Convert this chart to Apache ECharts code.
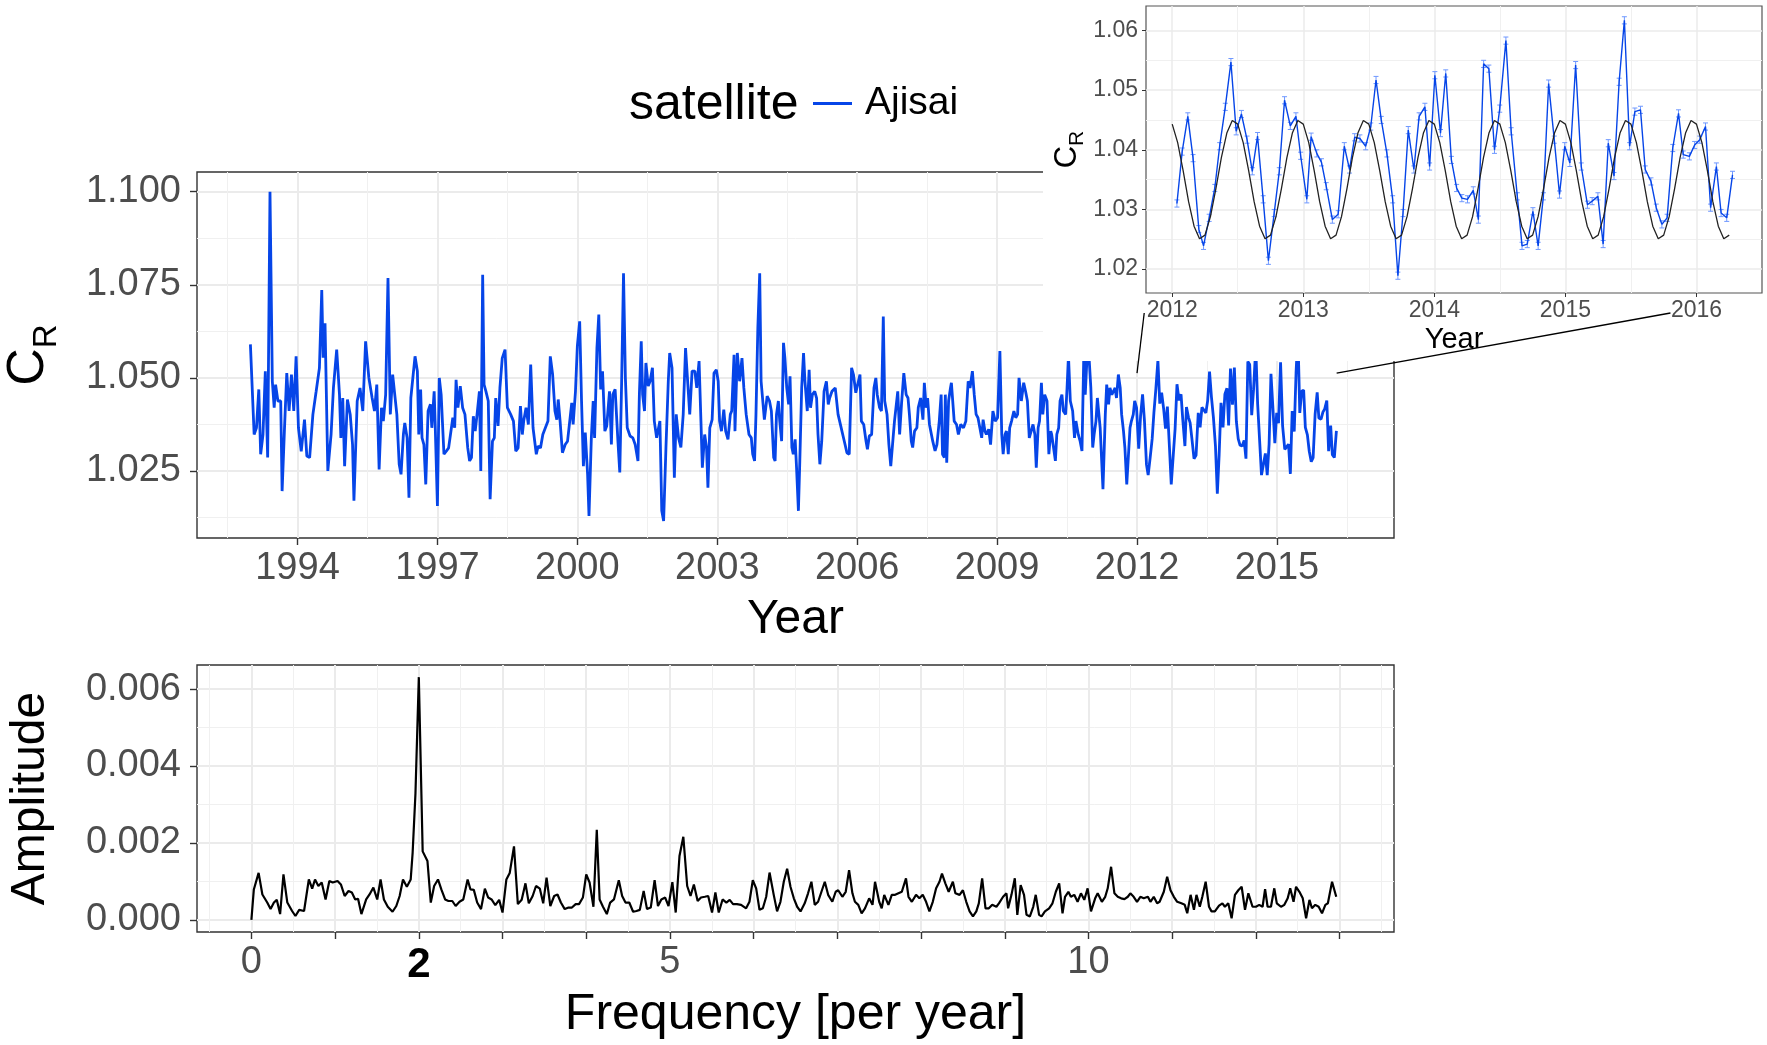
<!DOCTYPE html>
<html>
<head>
<meta charset="utf-8">
<script src="https://cdn.jsdelivr.net/npm/echarts@6/dist/echarts.min.js"></script>
<style>
  html, body { margin: 0; padding: 0; background: #fff; }
  #chart { width: 1767px; height: 1045px; }
</style>
</head>
<body>
<div id="chart"></div>
<script>
// C_R series 1993-2011, [decimal year, C_R]
const mainObs = [
  [1992.99,1.0590],[1993.07,1.0348],[1993.12,1.0366],[1993.17,1.0469],[1993.21,1.0295],[1993.26,1.0348],[1993.31,1.0518],[1993.36,1.0286],[1993.41,1.1000],[1993.46,1.0491],
  [1993.50,1.0420],[1993.53,1.0482],[1993.58,1.0438],[1993.64,1.0438],[1993.67,1.0196],[1993.72,1.0361],[1993.77,1.0513],[1993.82,1.0411],[1993.87,1.0509],[1993.92,1.0411],
  [1993.97,1.0558],[1994.02,1.0366],[1994.08,1.0303],[1994.15,1.0388],[1994.20,1.0290],[1994.26,1.0286],[1994.33,1.0402],[1994.40,1.0464],[1994.47,1.0527],[1994.52,1.0736],
  [1994.55,1.0554],[1994.59,1.0647],[1994.65,1.0250],[1994.72,1.0348],[1994.77,1.0473],[1994.84,1.0576],[1994.90,1.0455],[1994.93,1.0339],[1994.97,1.0446],[1995.01,1.0263],
  [1995.07,1.0442],[1995.13,1.0402],[1995.18,1.0321],[1995.21,1.0170],[1995.28,1.0438],[1995.34,1.0473],[1995.40,1.0411],[1995.46,1.0598],[1995.53,1.0500],[1995.60,1.0446],
  [1995.65,1.0411],[1995.70,1.0482],[1995.75,1.0254],[1995.80,1.0420],[1995.84,1.0384],[1995.89,1.0455],[1995.94,1.0768],[1995.99,1.0402],[1996.04,1.0509],
  [1996.13,1.0402],[1996.18,1.0268],[1996.22,1.0241],[1996.27,1.0348],[1996.30,1.0379],[1996.35,1.0339],[1996.39,1.0178],[1996.43,1.0446],[1996.48,1.0509],[1996.52,1.0558],
  [1996.57,1.0518],[1996.60,1.0348],[1996.64,1.0469],[1996.67,1.0339],[1996.71,1.0321],[1996.75,1.0214],[1996.80,1.0411],[1996.85,1.0429],[1996.88,1.0366],[1996.93,1.0464],
  [1996.95,1.0384],[1997.00,1.0156],[1997.04,1.0500],[1997.08,1.0455],[1997.14,1.0295],[1997.19,1.0303],[1997.24,1.0312],[1997.28,1.0312],[1997.33,1.0393],[1997.37,1.0366],
  [1997.40,1.0495],[1997.44,1.0420],[1997.49,1.0478],[1997.54,1.0420],[1997.59,1.0402],[1997.65,1.0312],[1997.69,1.0277],[1997.73,1.0286],[1997.77,1.0397],[1997.81,1.0357],
  [1997.85,1.0402],[1997.90,1.0464],[1997.93,1.0250],[1997.97,1.0777],[1998.00,1.0482],[1998.04,1.0464],[1998.09,1.0438],[1998.13,1.0174],[1998.18,1.0330],[1998.22,1.0339],
  [1998.25,1.0446],[1998.30,1.0371],[1998.34,1.0473],[1998.39,1.0553],[1998.45,1.0576],[1998.50,1.0420],[1998.57,1.0402],[1998.63,1.0384],[1998.68,1.0303],[1998.73,1.0312],
  [1998.78,1.0424],[1998.82,1.0348],[1998.85,1.0384],[1998.90,1.0420],[1998.95,1.0375],[1999.00,1.0536],[1999.05,1.0366],[1999.12,1.0295],[1999.16,1.0317],[1999.21,1.0312],
  [1999.26,1.0348],[1999.37,1.0384],[1999.42,1.0558],[1999.47,1.0509],[1999.52,1.0411],[1999.56,1.0388],[1999.59,1.0442],[1999.63,1.0384],[1999.68,1.0299],[1999.74,1.0321],
  [1999.79,1.0330],[1999.82,1.0335],[1999.88,1.0433],[1999.91,1.0375],[1999.96,1.0464],[2000.00,1.0585],[2000.05,1.0652],[2000.09,1.0438],[2000.13,1.0263],[2000.17,1.0353],
  [2000.22,1.0241],[2000.25,1.0129],[2000.30,1.0339],[2000.34,1.0438],[2000.37,1.0339],[2000.42,1.0580],[2000.46,1.0670],[2000.50,1.0469],[2000.54,1.0518],[2000.59,1.0357],
  [2000.63,1.0371],[2000.69,1.0464],[2000.73,1.0321],[2000.76,1.0455],[2000.81,1.0469],[2000.87,1.0330],[2000.91,1.0246],[2000.95,1.0491],[2000.99,1.0781],[2001.03,1.0500],
  [2001.07,1.0366],[2001.13,1.0344],[2001.19,1.0339],[2001.24,1.0321],[2001.30,1.0277],[2001.33,1.0455],[2001.37,1.0598],[2001.40,1.0455],[2001.44,1.0411],[2001.47,1.0540],
  [2001.52,1.0478],[2001.56,1.0491],[2001.61,1.0527],[2001.65,1.0384],[2001.70,1.0339],[2001.73,1.0339],[2001.77,1.0384],[2001.81,1.0143],[2001.85,1.0116],[2001.90,1.0313],
  [2001.95,1.0491],[2001.98,1.0567],[2002.03,1.0527],[2002.08,1.0232],[2002.12,1.0402],[2002.17,1.0339],[2002.22,1.0313],[2002.27,1.0402],[2002.32,1.0580],[2002.36,1.0580],
  [2002.41,1.0402],[2002.46,1.0518],[2002.52,1.0518],[2002.56,1.0473],[2002.61,1.0545],[2002.65,1.0384],[2002.68,1.0259],[2002.73,1.0348],[2002.77,1.0313],[2002.80,1.0205],
  [2002.84,1.0366],[2002.89,1.0388],[2002.93,1.0513],[2002.98,1.0522],[2003.02,1.0491],[2003.05,1.0384],[2003.09,1.0357],[2003.14,1.0415],[2003.18,1.0357],[2003.23,1.0335],
  [2003.28,1.0402],[2003.31,1.0411],[2003.36,1.0562],[2003.38,1.0357],[2003.43,1.0567],[2003.48,1.0491],[2003.53,1.0553],[2003.57,1.0473],[2003.62,1.0402],[2003.68,1.0348],
  [2003.73,1.0339],[2003.76,1.0295],[2003.80,1.0277],[2003.83,1.0402],[2003.87,1.0634],[2003.91,1.0781],[2003.94,1.0491],[2003.97,1.0491],[2004.01,1.0388],[2004.07,1.0451],
  [2004.12,1.0438],[2004.16,1.0411],[2004.21,1.0286],[2004.24,1.0277],[2004.27,1.0402],[2004.31,1.0438],[2004.34,1.0384],[2004.38,1.0330],[2004.42,1.0594],[2004.45,1.0554],
  [2004.49,1.0473],[2004.53,1.0429],[2004.56,1.0504],[2004.60,1.0313],[2004.63,1.0295],[2004.67,1.0335],[2004.70,1.0259],[2004.74,1.0143],[2004.77,1.0277],[2004.81,1.0473],
  [2004.85,1.0567],[2004.88,1.0491],[2004.93,1.0411],[2004.97,1.0522],[2005.00,1.0420],[2005.04,1.0455],[2005.09,1.0464],[2005.13,1.0446],[2005.16,1.0348],[2005.20,1.0268],
  [2005.24,1.0330],[2005.29,1.0464],[2005.34,1.0491],[2005.38,1.0429],[2005.41,1.0446],[2005.46,1.0464],[2005.53,1.0473],[2005.59,1.0402],[2005.64,1.0375],[2005.69,1.0348],
  [2005.74,1.0321],[2005.78,1.0299],[2005.83,1.0295],[2005.88,1.0527],[2005.92,1.0509],[2005.97,1.0460],[2006.01,1.0455],[2006.06,1.0509],[2006.09,1.0384],[2006.14,1.0375],
  [2006.19,1.0330],[2006.22,1.0308],[2006.26,1.0344],[2006.31,1.0348],[2006.36,1.0473],[2006.40,1.0500],[2006.43,1.0455],[2006.48,1.0420],[2006.52,1.0411],[2006.56,1.0665],
  [2006.59,1.0438],[2006.64,1.0402],[2006.68,1.0321],[2006.72,1.0263],[2006.77,1.0339],[2006.80,1.0384],[2006.84,1.0388],[2006.87,1.0464],[2006.91,1.0348],[2006.95,1.0429],
  [2007.00,1.0513],[2007.05,1.0455],[2007.09,1.0446],[2007.12,1.0402],[2007.16,1.0330],[2007.19,1.0313],[2007.23,1.0357],[2007.28,1.0366],[2007.31,1.0420],[2007.36,1.0446],
  [2007.41,1.0388],[2007.44,1.0487],[2007.48,1.0420],[2007.51,1.0446],[2007.55,1.0375],[2007.58,1.0375],[2007.62,1.0330],[2007.67,1.0304],[2007.71,1.0321],[2007.76,1.0384],
  [2007.80,1.0455],[2007.83,1.0295],[2007.87,1.0286],[2007.89,1.0455],[2007.92,1.0272],[2007.96,1.0438],[2008.00,1.0473],[2008.02,1.0487],[2008.08,1.0384],[2008.13,1.0375],
  [2008.17,1.0348],[2008.22,1.0375],[2008.28,1.0366],[2008.33,1.0384],[2008.38,1.0491],[2008.42,1.0473],[2008.47,1.0518],[2008.51,1.0455],[2008.55,1.0402],[2008.59,1.0393],
  [2008.63,1.0366],[2008.67,1.0339],[2008.70,1.0388],[2008.74,1.0357],[2008.77,1.0348],[2008.82,1.0362],[2008.86,1.0321],[2008.91,1.0411],[2008.96,1.0384],[2009.01,1.0393],
  [2009.06,1.0572],[2009.10,1.0348],[2009.13,1.0295],[2009.17,1.0348],[2009.20,1.0357],[2009.24,1.0295],[2009.27,1.0366],[2009.31,1.0384],[2009.36,1.0411],[2009.40,1.0393],
  [2009.44,1.0402],[2009.47,1.0500],[2009.52,1.0438],[2009.57,1.0487],[2009.61,1.0464],[2009.65,1.0438],[2009.69,1.0339],[2009.73,1.0339],[2009.77,1.0375],[2009.81,1.0348],
  [2009.84,1.0259],[2009.88,1.0366],[2009.91,1.0384],[2009.95,1.0487],[2009.98,1.0402],[2010.02,1.0455],[2010.07,1.0438],[2010.11,1.0295],[2010.15,1.0357],[2010.17,1.0348],
  [2010.21,1.0313],[2010.25,1.0277],[2010.28,1.0348],[2010.32,1.0366],[2010.35,1.0438],[2010.39,1.0455],[2010.42,1.0411],[2010.47,1.0402],[2010.50,1.0473],[2010.53,1.0560],
  [2010.57,1.0438],[2010.62,1.0411],[2010.66,1.0339],[2010.69,1.0384],[2010.74,1.0348],[2010.78,1.0330],[2010.82,1.0304],[2010.86,1.0570],[2010.89,1.0455],[2010.93,1.0560],
  [2010.96,1.0580],[2011.01,1.0473],[2011.05,1.0313],[2011.08,1.0348],[2011.12,1.0384],[2011.15,1.0446],[2011.21,1.0366],[2011.27,1.0201],[2011.32,1.0402],[2011.35,1.0482],
  [2011.39,1.0429],[2011.42,1.0473],[2011.46,1.0455],[2011.49,1.0455],[2011.53,1.0473],[2011.56,1.0446],[2011.60,1.0509],[2011.64,1.0473],[2011.67,1.0402],[2011.71,1.0357],
  [2011.74,1.0313],[2011.78,1.0214],[2011.81,1.0214],[2011.85,1.0366],[2011.88,1.0384],[2011.92,1.0402],[2011.95,1.0438],[2011.99,1.0420]
];

// 2012-2016 detail (inset), also the tail of the main series
const insetObs = [
  [2012.036,1.0310],[2012.076,1.0397],[2012.119,1.0456],[2012.159,1.0386],[2012.203,1.0267],[2012.239,1.0239],[2012.282,1.0286],[2012.325,1.0336],[2012.362,1.0406],[2012.405,1.0472],
  [2012.448,1.0547],[2012.488,1.0431],[2012.528,1.0460],[2012.571,1.0417],[2012.611,1.0364],[2012.651,1.0423],[2012.694,1.0317],[2012.734,1.0214],[2012.778,1.0294],[2012.817,1.0364],
  [2012.857,1.0483],[2012.901,1.0440],[2012.944,1.0456],[2012.980,1.0390],[2013.027,1.0317],[2013.060,1.0422],[2013.103,1.0394],[2013.139,1.0379],[2013.175,1.0339],[2013.222,1.0283],
  [2013.266,1.0292],[2013.313,1.0406],[2013.353,1.0367],[2013.392,1.0421],[2013.432,1.0419],[2013.476,1.0406],[2013.515,1.0439],[2013.555,1.0517],[2013.595,1.0450],[2013.638,1.0394],
  [2013.682,1.0317],[2013.722,1.0189],[2013.761,1.0294],[2013.801,1.0433],[2013.844,1.0367],[2013.884,1.0456],[2013.928,1.0472],[2013.964,1.0372],[2014.004,1.0525],[2014.047,1.0428],
  [2014.087,1.0528],[2014.130,1.0383],[2014.170,1.0336],[2014.210,1.0319],[2014.253,1.0317],[2014.297,1.0332],[2014.336,1.0283],[2014.376,1.0544],[2014.416,1.0536],[2014.459,1.0400],
  [2014.499,1.0469],[2014.546,1.0583],[2014.586,1.0431],[2014.633,1.0322],[2014.669,1.0239],[2014.709,1.0242],[2014.752,1.0297],[2014.792,1.0239],[2014.832,1.0322],[2014.872,1.0511],
  [2014.915,1.0417],[2014.955,1.0325],[2014.995,1.0406],[2015.034,1.0378],[2015.078,1.0542],[2015.121,1.0372],[2015.168,1.0308],[2015.204,1.0314],[2015.248,1.0322],[2015.288,1.0242],
  [2015.327,1.0411],[2015.371,1.0356],[2015.410,1.0514],[2015.450,1.0617],[2015.490,1.0406],[2015.530,1.0464],[2015.573,1.0467],[2015.609,1.0367],[2015.653,1.0347],[2015.693,1.0303],
  [2015.736,1.0275],[2015.776,1.0286],[2015.819,1.0403],[2015.863,1.0461],[2015.899,1.0392],[2015.946,1.0389],[2015.986,1.0408],[2016.025,1.0417],[2016.069,1.0439],[2016.108,1.0303],
  [2016.152,1.0372],[2016.188,1.0294],[2016.231,1.0286],[2016.275,1.0358]
];
const insetErr = 0.0006;

// fitted semi-annual curve, one value every half month from 2012.0
const fitCR = [
  1.0443,1.0412,1.0365,1.0313,1.0272,1.0251,1.0257,1.0288,1.0335,1.0387,1.0428,1.0449,
  1.0443,1.0412,1.0365,1.0313,1.0272,1.0251,1.0257,1.0288,1.0335,1.0387,1.0428,1.0449,
  1.0443,1.0412,1.0365,1.0313,1.0272,1.0251,1.0257,1.0288,1.0335,1.0387,1.0428,1.0449,
  1.0443,1.0412,1.0365,1.0313,1.0272,1.0251,1.0257,1.0288,1.0335,1.0387,1.0428,1.0449,
  1.0443,1.0412,1.0365,1.0313,1.0272,1.0251,1.0257,1.0288,1.0335,1.0387,1.0428,1.0449,
  1.0443,1.0412,1.0365,1.0313,1.0272,1.0251,1.0257,1.0288,1.0335,1.0387,1.0428,1.0449,
  1.0443,1.0412,1.0365,1.0313,1.0272,1.0251,1.0257,1.0288,1.0335,1.0387,1.0428,1.0449,
  1.0443,1.0412,1.0365,1.0313,1.0272,1.0251,1.0257,1.0288,1.0335,1.0387,1.0428,1.0449,
  1.0443,1.0412,1.0365,1.0313,1.0272,1.0251,1.0257
];
const fitStart = 2012;
const fitStep = 1 / 24;

// amplitude spectrum, [frequency per year, amplitude]
const fftSpectrum = [
  [0,0],[0.029,0.00079],[0.086,0.00122],[0.131,0.00066],[0.189,0.00045],[0.229,0.00028],[0.269,0.00045],[0.303,0.00052],[0.343,0.00015],[0.383,0.00118],
  [0.429,0.00045],[0.486,0.00023],[0.526,0.00010],[0.571,0.00026],[0.629,0.00023],[0.686,0.00105],[0.726,0.00081],[0.760,0.00105],[0.800,0.00088],[0.840,0.00097],
  [0.886,0.00053],[0.931,0.00101],[0.971,0.00097],[1.029,0.00101],[1.069,0.00092],[1.114,0.00062],[1.160,0.00075],[1.200,0.00071],[1.240,0.00053],[1.274,0.00055],
  [1.314,0.00015],[1.371,0.00053],[1.411,0.00066],[1.457,0.00084],[1.503,0.00053],[1.543,0.00105],[1.583,0.00053],[1.629,0.00034],[1.686,0.00021],[1.731,0.00036],
  [1.771,0.00062],[1.811,0.00105],[1.857,0.00086],[1.903,0.00105],[1.926,0.00174],[1.960,0.00329],[2.000,0.00631],[2.046,0.00178],[2.103,0.00153],[2.143,0.00045],
  [2.183,0.00088],[2.229,0.00105],[2.269,0.00079],[2.314,0.00053],[2.354,0.00049],[2.400,0.00049],[2.440,0.00036],[2.486,0.00047],[2.531,0.00053],[2.583,0.00105],
  [2.617,0.00079],[2.657,0.00078],[2.697,0.00045],[2.743,0.00028],[2.789,0.00081],[2.829,0.00058],[2.869,0.00053],[2.914,0.00038],[2.960,0.00052],[3.000,0.00019],
  [3.046,0.00105],[3.086,0.00122],[3.137,0.00191],[3.183,0.00041],[3.229,0.00052],[3.274,0.00095],[3.314,0.00043],[3.360,0.00062],[3.400,0.00088],[3.446,0.00081],
  [3.486,0.00043],[3.526,0.00110],[3.571,0.00036],[3.617,0.00062],[3.657,0.00066],[3.697,0.00045],[3.743,0.00028],[3.789,0.00032],[3.829,0.00032],[3.874,0.00041],
  [3.914,0.00041],[3.960,0.00058],[4.000,0.00118],[4.040,0.00097],[4.086,0.00034],[4.126,0.00234],[4.160,0.00053],[4.200,0.00034],[4.246,0.00015],[4.286,0.00045],
  [4.331,0.00053],[4.389,0.00103],[4.429,0.00062],[4.469,0.00045],[4.514,0.00045],[4.560,0.00021],[4.600,0.00023],[4.640,0.00026],[4.686,0.00075],[4.726,0.00028],
  [4.771,0.00032],[4.817,0.00103],[4.857,0.00036],[4.897,0.00053],[4.943,0.00058],[4.983,0.00036],[5.029,0.00098],[5.069,0.00019],[5.114,0.00166],[5.160,0.00216],
  [5.206,0.00088],[5.246,0.00062],[5.286,0.00092],[5.331,0.00049],[5.371,0.00058],[5.417,0.00060],[5.457,0.00062],[5.503,0.00019],[5.543,0.00071],[5.583,0.00019],
  [5.629,0.00053],[5.674,0.00045],[5.714,0.00052],[5.754,0.00041],[5.800,0.00041],[5.85,0.00039],[5.91,0.00030],[5.95,0.00047],[5.99,0.00103],[6.03,0.00082],
  [6.07,0.00026],[6.11,0.00030],[6.15,0.00060],[6.19,0.00123],[6.24,0.00065],[6.28,0.00022],[6.32,0.00047],[6.36,0.00099],[6.40,0.00133],[6.44,0.00086],
  [6.48,0.00056],[6.52,0.00034],[6.56,0.00022],[6.61,0.00043],[6.65,0.00069],[6.69,0.00099],[6.73,0.00039],[6.77,0.00047],[6.81,0.00073],[6.85,0.00099],
  [6.89,0.00065],[6.94,0.00047],[6.98,0.00073],[7.01,0.00077],[7.06,0.00060],[7.10,0.00073],[7.14,0.00129],[7.18,0.00069],[7.21,0.00047],[7.25,0.00039],
  [7.29,0.00017],[7.33,0.00030],[7.38,0.00056],[7.42,0.00039],[7.45,0.00099],[7.50,0.00047],[7.53,0.00030],[7.56,0.00065],[7.61,0.00039],[7.65,0.00065],
  [7.69,0.00065],[7.73,0.00069],[7.77,0.00073],[7.82,0.00108],[7.85,0.00060],[7.89,0.00047],[7.94,0.00065],[7.98,0.00056],[8.02,0.00065],[8.06,0.00047],
  [8.10,0.00022],[8.14,0.00047],[8.18,0.00082],[8.22,0.00099],[8.25,0.00120],[8.29,0.00095],[8.33,0.00073],[8.38,0.00099],[8.41,0.00069],[8.46,0.00065],
  [8.50,0.00077],[8.54,0.00047],[8.58,0.00022],[8.62,0.00009],[8.66,0.00022],[8.69,0.00043],[8.73,0.00108],[8.77,0.00030],[8.81,0.00030],[8.85,0.00039],
  [8.90,0.00034],[8.93,0.00043],[8.98,0.00060],[9.02,0.00069],[9.04,0.00030],[9.08,0.00065],[9.12,0.00108],[9.15,0.00013],[9.19,0.00090],[9.23,0.00065],
  [9.26,0.00013],[9.30,0.00009],[9.34,0.00034],[9.37,0.00065],[9.41,0.00013],[9.44,0.00009],[9.48,0.00022],[9.53,0.00030],[9.57,0.00043],[9.61,0.00073],
  [9.65,0.00095],[9.69,0.00017],[9.72,0.00060],[9.76,0.00073],[9.79,0.00060],[9.83,0.00065],[9.87,0.00047],[9.91,0.00069],[9.95,0.00052],[9.99,0.00082],
  [10.03,0.00022],[10.08,0.00056],[10.11,0.00069],[10.16,0.00047],[10.20,0.00060],[10.23,0.00082],[10.27,0.00138],[10.31,0.00069],[10.35,0.00060],[10.39,0.00056],
  [10.43,0.00054],[10.47,0.00060],[10.50,0.00069],[10.54,0.00060],[10.58,0.00047],[10.62,0.00060],[10.66,0.00056],[10.71,0.00060],[10.74,0.00047],[10.78,0.00060],
  [10.82,0.00043],[10.85,0.00047],[10.90,0.00073],[10.94,0.00112],[10.98,0.00077],[11.02,0.00060],[11.06,0.00047],[11.11,0.00043],[11.15,0.00039],[11.18,0.00017],
  [11.22,0.00065],[11.26,0.00026],[11.29,0.00065],[11.33,0.00034],[11.36,0.00060],[11.40,0.00099],[11.44,0.00034],[11.47,0.00022],[11.51,0.00022],[11.56,0.00037],
  [11.60,0.00043],[11.63,0.00034],[11.67,0.00043],[11.71,0.00004],[11.75,0.00065],[11.79,0.00077],[11.83,0.00086],[11.87,0.00026],[11.91,0.00069],[11.96,0.00034],
  [12.00,0.00034],[12.04,0.00039],[12.08,0.00034],[12.11,0.00080],[12.14,0.00034],[12.18,0.00034],[12.22,0.00082],[12.25,0.00043],[12.30,0.00034],[12.34,0.00039],
  [12.38,0.00056],[12.41,0.00082],[12.45,0.00047],[12.48,0.00086],[12.52,0.00073],[12.56,0.00056],[12.60,0.00004],[12.64,0.00052],[12.67,0.00030],[12.71,0.00039],
  [12.75,0.00034],[12.79,0.00017],[12.83,0.00039],[12.86,0.00043],[12.91,0.00099],[12.96,0.00060]
];

// tick / grid positions
const mainXTicks = [1994, 1997, 2000, 2003, 2006, 2009, 2012, 2015];
const mainXMinor = [1992.5, 1995.5, 1998.5, 2001.5, 2004.5, 2007.5, 2010.5, 2013.5, 2016.5];
const mainYTicks = [1.025, 1.05, 1.075, 1.1];
const mainYMinor = [1.0125, 1.0375, 1.0625, 1.0875];
const fftXTicks = [0, 1, 2, 3, 4, 5, 6, 7, 8, 9, 10, 11, 12, 13];
const fftXLabels = [0, 2, 5, 10];
const fftXMinor = [-0.5, 0.5, 1.5, 2.5, 3.5, 4.5, 5.5, 6.5, 7.5, 8.5, 9.5, 10.5, 11.5, 12.5, 13.5];
const fftYTicks = [0, 0.002, 0.004, 0.006];
const fftYMinor = [0.001, 0.003, 0.005];
const insetXTicks = [2012, 2013, 2014, 2015, 2016];
const insetXMinor = [2012.5, 2013.5, 2014.5, 2015.5];
const insetYTicks = [1.02, 1.03, 1.04, 1.05, 1.06];
const insetYMinor = [1.025, 1.035, 1.045, 1.055];

const FONT = '"Liberation Sans", Arial, Helvetica, sans-serif';
const BLUE = '#0645e8';
const LABEL_GREY = '#4d4d4d';
const BORDER = '#333333';

const chart = echarts.init(document.getElementById('chart'));

function majorAxis(o) {
  return {
    type: 'value', gridIndex: o.grid, position: o.pos, min: o.min, max: o.max, z: o.z || 0,
    axisLine: { show: false, onZero: false },
    axisTick: { show: true, length: o.tickLen, customValues: o.ticks,
      lineStyle: { color: BORDER, width: o.tickW } },
    axisLabel: { customValues: o.labels || o.ticks, fontSize: o.fs, color: LABEL_GREY,
      fontFamily: FONT, margin: o.margin, formatter: o.fmt, rich: o.rich },
    splitLine: { show: true, lineStyle: { color: '#ebebeb', width: o.gridW } },
    name: o.name, nameLocation: 'middle', nameGap: o.nameGap, nameRotate: o.nameRotate,
    nameMoveOverlap: false,
    nameTextStyle: o.nameStyle
  };
}
function minorAxis(grid, min, max, vals, w, z) {
  return {
    type: 'value', gridIndex: grid, min: min, max: max, z: z || 0,
    axisLine: { show: false, onZero: false },
    axisTick: { show: false, customValues: vals },
    axisLabel: { show: false },
    splitLine: { show: true, lineStyle: { color: '#f0f0f0', width: w } }
  };
}

// C with subscript R, both glyphs sitting on the bottom of the line box
const crName = (big, small, drop) => ({
  rich: {
    c: { fontSize: big, lineHeight: big, fontFamily: FONT, color: '#000', verticalAlign: 'bottom', padding: [0, 0, drop, 0] },
    r: { fontSize: small, lineHeight: small, fontFamily: FONT, color: '#000', verticalAlign: 'bottom' }
  }
});

const option = {
  animation: false,
  backgroundColor: '#fff',
  grid: [
    { left: 197, top: 172, width: 1197, height: 366, show: true, borderColor: BORDER, borderWidth: 1.4, outerBoundsMode: 'none' },
    { left: 197, top: 665, width: 1197, height: 267, show: true, borderColor: BORDER, borderWidth: 1.4, outerBoundsMode: 'none' },
    { left: 1146, top: 6, width: 616, height: 287, show: true, z: 60, backgroundColor: '#fff', borderColor: '#555', borderWidth: 1.2, outerBoundsMode: 'none' }
  ],
  legend: {
    data: ['Ajisai'], left: 808, top: 79, icon: 'rect', itemWidth: 39, itemHeight: 3,
    selectedMode: false,
    textStyle: { fontSize: 39, fontFamily: FONT, color: '#000', padding: [0, 0, 0, 8] }
  },
  xAxis: [
    minorAxis(0, 1991.845, 2017.51, mainXMinor, 1),
    majorAxis({ grid: 0, pos: 'bottom', min: 1991.845, max: 2017.51, ticks: mainXTicks, tickLen: 7, tickW: 1.4,
      fs: 38, margin: 12, gridW: 2, fmt: v => String(v),
      name: 'Year', nameGap: 58, nameStyle: { fontSize: 48, fontFamily: FONT, color: '#000' } }),
    minorAxis(1, -0.65, 13.65, fftXMinor, 1),
    majorAxis({ grid: 1, pos: 'bottom', min: -0.65, max: 13.65, ticks: fftXTicks, labels: fftXLabels, tickLen: 7, tickW: 1.4,
      fs: 38, margin: 12, gridW: 2,
      fmt: v => v === 2 ? '{b|2}' : '{n|' + v + '}',
      rich: {
        n: { fontSize: 38, color: LABEL_GREY, fontFamily: FONT },
        b: { fontSize: 42, color: '#000', fontWeight: 'bold', fontFamily: '"Liberation Sans Narrow", ' + FONT }
      },
      name: 'Frequency [per year]', nameGap: 58, nameStyle: { fontSize: 50, fontFamily: FONT, color: '#000' } }),
    minorAxis(2, 2011.8, 2016.5, insetXMinor, 1, 60),
    majorAxis({ grid: 2, pos: 'bottom', min: 2011.8, max: 2016.5, ticks: insetXTicks, tickLen: 4, tickW: 1,
      fs: 23, margin: 6, gridW: 1.5, z: 60, fmt: v => String(v),
      name: 'Year', nameGap: 32, nameStyle: { fontSize: 29, fontFamily: FONT, color: '#000' } })
  ],
  yAxis: [
    minorAxis(0, 1.0070, 1.1053, mainYMinor, 1),
    majorAxis({ grid: 0, pos: 'left', min: 1.0070, max: 1.1053, ticks: mainYTicks, tickLen: 7, tickW: 1.4,
      fs: 38, margin: 16, gridW: 2, fmt: v => v.toFixed(3),
      name: '{c|C}{r|R}', nameGap: 134, nameRotate: 90, nameStyle: crName(52, 33, 8) }),
    minorAxis(1, -0.000316, 0.006626, fftYMinor, 1),
    majorAxis({ grid: 1, pos: 'left', min: -0.000316, max: 0.006626, ticks: fftYTicks, tickLen: 7, tickW: 1.4,
      fs: 38, margin: 16, gridW: 2, fmt: v => v.toFixed(3),
      name: 'Amplitude', nameGap: 142, nameRotate: 90, nameStyle: { fontSize: 48, fontFamily: FONT, color: '#000' } }),
    minorAxis(2, 1.016, 1.0641, insetYMinor, 1, 60),
    majorAxis({ grid: 2, pos: 'left', min: 1.016, max: 1.0641, ticks: insetYTicks, tickLen: 4, tickW: 1,
      fs: 23, margin: 8, gridW: 1.5, z: 60, fmt: v => v.toFixed(2),
      name: '{c|C}{r|R}', nameGap: 58, nameRotate: 90, nameStyle: crName(31, 21, 5) })
  ],
  series: [
    {
      name: 'Ajisai', type: 'line', xAxisIndex: 1, yAxisIndex: 1,
      data: mainObs.concat(insetObs), showSymbol: false, symbol: 'none',
      itemStyle: { color: BLUE }, lineStyle: { color: BLUE, width: 2.8 }, clip: true
    },
    {
      name: 'spectrum', type: 'line', xAxisIndex: 3, yAxisIndex: 3,
      data: fftSpectrum, showSymbol: false, symbol: 'none',
      itemStyle: { color: '#000' }, lineStyle: { color: '#000', width: 2.2 }, clip: true
    },
    {
      name: 'errors', type: 'custom', xAxisIndex: 5, yAxisIndex: 5, z: 61,
      data: insetObs.map(d => [d[0], d[1], insetErr]),
      renderItem: (params, api) => {
        const t = api.value(0), v = api.value(1), e = api.value(2);
        const hi = api.coord([t, v + e]), lo = api.coord([t, v - e]);
        const st = { stroke: '#6f98ff', lineWidth: 1 };
        return {
          type: 'group', children: [
            { type: 'line', shape: { x1: hi[0], y1: hi[1], x2: lo[0], y2: lo[1] }, style: st },
            { type: 'line', shape: { x1: hi[0] - 2.5, y1: hi[1], x2: hi[0] + 2.5, y2: hi[1] }, style: st },
            { type: 'line', shape: { x1: lo[0] - 2.5, y1: lo[1], x2: lo[0] + 2.5, y2: lo[1] }, style: st }
          ]
        };
      }
    },
    {
      name: 'insetData', type: 'line', xAxisIndex: 5, yAxisIndex: 5, z: 62,
      data: insetObs, showSymbol: false, symbol: 'none',
      itemStyle: { color: BLUE }, lineStyle: { color: BLUE, width: 1.4 }
    },
    {
      name: 'fit', type: 'line', xAxisIndex: 5, yAxisIndex: 5, z: 63,
      data: fitCR.map((v, i) => [fitStart + i * fitStep, v]), showSymbol: false, symbol: 'none',
      itemStyle: { color: '#222' }, lineStyle: { color: '#222', width: 1.3 }
    }
  ]
};

const baseGraphics = [
  { id: 'cover', type: 'rect', z: 50, silent: true,
    shape: { x: 1043, y: 0, width: 724, height: 361 }, style: { fill: '#fff' } },
  { id: 'legendTitle', type: 'text', z: 5, silent: true,
    style: { text: 'satellite', x: 629, y: 105, fill: '#000', font: '50px ' + FONT, align: 'left', verticalAlign: 'middle' } }
];
option.graphic = { elements: baseGraphics };
chart.setOption(option);

// zoom connectors from the main panel to the inset axis labels
const a = chart.convertToPixel({ seriesIndex: 0 }, [2012.0, 1.0513]);
const b = chart.convertToPixel({ seriesIndex: 0 }, [2016.28, 1.0513]);
const c = chart.convertToPixel({ seriesIndex: 3 }, [2012, 1.016]);
const d = chart.convertToPixel({ seriesIndex: 3 }, [2016, 1.016]);
chart.setOption({
  graphic: {
    elements: baseGraphics.concat([
      { id: 'conn1', type: 'line', z: 70, silent: true,
        shape: { x1: a[0], y1: a[1], x2: c[0] - 28, y2: c[1] + 20 }, style: { stroke: '#000', lineWidth: 1.3 } },
      { id: 'conn2', type: 'line', z: 70, silent: true,
        shape: { x1: b[0], y1: b[1], x2: d[0] - 26, y2: d[1] + 20 }, style: { stroke: '#000', lineWidth: 1.3 } }
    ])
  }
});
window.addEventListener('resize', () => chart.resize());
</script>
</body>
</html>
